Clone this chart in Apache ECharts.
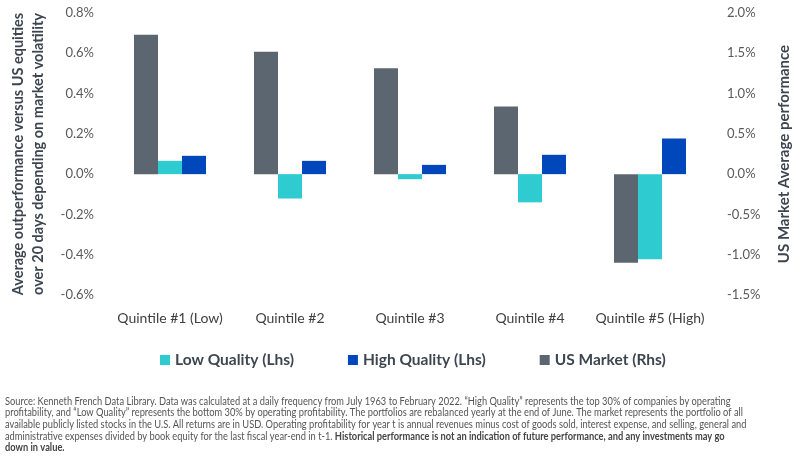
<!DOCTYPE html>
<html>
<head>
<meta charset="utf-8">
<script src="https://cdn.jsdelivr.net/npm/echarts@6/dist/echarts.min.js"></script>
<style>
  html, body { margin: 0; padding: 0; background: #fff; }
  #main { width: 800px; height: 456px; }
</style>
</head>
<body>
<div id="main"></div>
<script>
var categories = ['Quintile #1 (Low)', 'Quintile #2', 'Quintile #3', 'Quintile #4', 'Quintile #5 (High)'];
var lowQuality = [0.066, -0.121, -0.025, -0.14, -0.422];   // % (Lhs)
var highQuality = [0.091, 0.066, 0.046, 0.096, 0.177];     // % (Lhs)
var usMarket = [1.73, 1.52, 1.315, 0.84, -1.10];           // % (Rhs)

var sourceLines = [
    'Source: Kenneth French Data Library. Data was calculated at a daily frequency from July 1963 to February 2022. \u201cHigh Quality\u201d represents the top 30% of companies by operating',
    'profitability, and \u201cLow Quality\u201d represents the bottom 30% by operating profitability. The portfolios are rebalanced yearly at the end of June. The market represents the portfolio of all',
    'available publicly listed stocks in the U.S. All returns are in USD. Operating profitability for year t is annual revenues minus cost of goods sold, interest expense, and selling, general and'
];
var sourceLine4 = 'administrative expenses divided by book equity for the last fiscal year-end in t-1. ';
var sourceBold4 = 'Historical performance is not an indication of future performance, and any investments may go';
var sourceBold5 = 'down in value.';

var myChart = echarts.init(document.getElementById('main'));

var font = 'Lato, "Noto Sans", sans-serif';
var smallFont = '10.5px Lato, sans-serif';
var smallBold = 'bold 10.5px Lato, sans-serif';
var squeeze = 0.885; // the source note uses a condensed face

// source note, one text per line
var graphics = [];
for (var i = 0; i < sourceLines.length; i++) {
    graphics.push({
        type: 'text',
        x: 5,
        y: 396 + i * 11.6,
        scaleX: squeeze,
        style: { text: sourceLines[i], fill: '#555', font: smallFont, verticalAlign: 'top' }
    });
}
graphics.push({
    type: 'text',
    x: 5,
    y: 396 + 3 * 11.6,
    scaleX: squeeze,
    style: {
        text: '{n|' + sourceLine4 + '}{b|' + sourceBold4 + '}',
        verticalAlign: 'top',
        rich: {
            n: { fill: '#555', font: smallFont },
            b: { fill: '#444', font: smallBold }
        }
    }
});
graphics.push({
    type: 'text',
    x: 5,
    y: 396 + 4 * 11.6,
    scaleX: squeeze,
    style: { text: sourceBold5, fill: '#444', font: smallBold, verticalAlign: 'top' }
});

myChart.setOption({
    animation: false,
    textStyle: { fontFamily: font },
    grid: {
        left: 110,
        right: 90,
        top: 13,
        bottom: 161
    },
    legend: {
        left: 155,
        top: 347,
        itemWidth: 10,
        itemHeight: 10,
        itemGap: 54,
        icon: 'rect',
        data: ['Low Quality (Lhs)', 'High Quality (Lhs)', 'US Market (Rhs)'],
        textStyle: { color: '#3d4650', fontWeight: 'bold', fontSize: 15.5, fontFamily: font }
    },
    xAxis: {
        type: 'category',
        data: categories,
        axisLine: { show: false },
        axisTick: { show: false },
        axisLabel: { color: '#404040', fontSize: 14, margin: 16, interval: 0 }
    },
    yAxis: [
        {
            type: 'value',
            min: -0.6,
            max: 0.8,
            interval: 0.2,
            name: 'Average outperformance versus US equities\nover 20 days depending on market volatility',
            nameLocation: 'middle',
            nameRotate: 90,
            nameGap: 62,
            nameTextStyle: { color: '#3d4650', fontWeight: 'bold', fontSize: 14.5, lineHeight: 20 },
            splitLine: { show: false },
            axisLine: { show: false },
            axisTick: { show: false },
            axisLabel: {
                color: '#5a5a5a',
                fontSize: 13,
                margin: 16,
                formatter: function(v) { return v.toFixed(1) + '%'; }
            }
        },
        {
            type: 'value',
            min: -1.5,
            max: 2.0,
            interval: 0.5,
            name: 'US Market Average performance',
            nameLocation: 'middle',
            nameRotate: 90,
            nameGap: 67,
            nameTextStyle: { color: '#3d4650', fontWeight: 'bold', fontSize: 15 },
            splitLine: { show: false },
            axisLine: { show: false },
            axisTick: { show: false },
            axisLabel: {
                color: '#5a5a5a',
                fontSize: 13,
                margin: 17,
                formatter: function(v) { return v.toFixed(1) + '%'; }
            }
        }
    ],
    series: [
        {
            name: 'US Market (Rhs)',
            type: 'bar',
            yAxisIndex: 1,
            barWidth: 24,
            barGap: '0%',
            itemStyle: { color: '#5b6670' },
            data: usMarket
        },
        {
            name: 'Low Quality (Lhs)',
            type: 'bar',
            yAxisIndex: 0,
            barWidth: 24,
            barGap: '0%',
            itemStyle: { color: '#2ecbd1' },
            data: lowQuality
        },
        {
            name: 'High Quality (Lhs)',
            type: 'bar',
            yAxisIndex: 0,
            barWidth: 24,
            barGap: '0%',
            itemStyle: { color: '#0047bb' },
            data: highQuality
        }
    ],
    graphic: graphics
});
</script>
</body>
</html>
